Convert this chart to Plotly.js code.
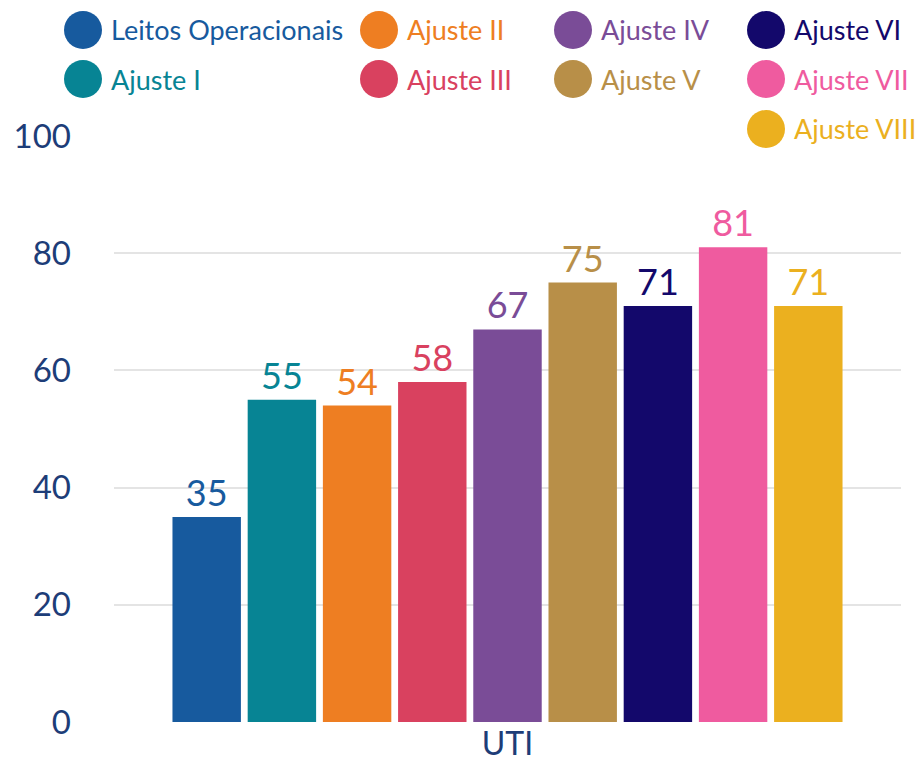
<!DOCTYPE html>
<html>
<head>
<meta charset="utf-8">
<script src="https://cdn.plot.ly/plotly-3.0.1.min.js"></script>
<style>html,body{margin:0;padding:0;background:#fff;}#chart{width:917px;height:764px;}</style>
</head>
<body>
<div id="chart"></div>
<script>
// ---- data ----
const categories = ["UTI"];
const seriesNames = ["Leitos Operacionais", "Ajuste I", "Ajuste II", "Ajuste III", "Ajuste IV", "Ajuste V", "Ajuste VI", "Ajuste VII", "Ajuste VIII"];
const seriesValues = [35, 55, 54, 58, 67, 75, 71, 81, 71];
const seriesColors = ["#175a9e", "#078494", "#ee7e22", "#d9415f", "#7a4c97", "#b88f48", "#13086b", "#ef5b9f", "#ebb01f"];
const yTickVals = [0, 20, 40, 60, 80, 100];

// ---- layout constants (pixels) ----
const W = 917, H = 764;
const M = {l: 114, r: 16, t: 136, b: 42};
const plotW = W - M.l - M.r, plotH = H - M.t - M.b;
// legend grid: [column, row] for each series
const legendSlots = [[0,0],[0,1],[1,0],[1,1],[2,0],[2,1],[3,0],[3,1],[3,2]];
const legendColX = [83, 379, 573, 766];
const legendRowY = [30, 79, 129];
const circleR = 19;
const textFont = "Lato, 'Open Sans', sans-serif";
const axisColor = "#1d3d78";

const traces = seriesNames.map((name, i) => ({
  type: "bar",
  name: name,
  x: categories,
  y: [seriesValues[i]],
  marker: {color: seriesColors[i]},
  text: [String(seriesValues[i])],
  textposition: "outside",
  textfont: {color: seriesColors[i], size: 36, family: textFont},
  cliponaxis: false,
  showlegend: false,
  hoverinfo: "name+y"
}));

const px2x = px => (px - M.l) / plotW;
const py2y = py => (H - M.b - py) / plotH;

const shapes = [], annotations = [];
seriesNames.forEach((name, i) => {
  const [c, r] = legendSlots[i];
  const cx = legendColX[c], cy = legendRowY[r];
  shapes.push({
    type: "circle", xref: "paper", yref: "paper",
    xsizemode: "pixel", ysizemode: "pixel",
    xanchor: px2x(cx), yanchor: py2y(cy),
    x0: -circleR, x1: circleR, y0: -circleR, y1: circleR,
    fillcolor: seriesColors[i], line: {width: 0}
  });
  annotations.push({
    xref: "paper", yref: "paper",
    x: px2x(cx + circleR + 7), y: py2y(cy),
    xanchor: "left", yanchor: "middle",
    text: name, showarrow: false,
    font: {family: textFont, size: 27, color: seriesColors[i]}
  });
});

const layout = {
  width: W, height: H,
  margin: M,
  paper_bgcolor: "#ffffff",
  plot_bgcolor: "#ffffff",
  barmode: "group",
  bargap: 0.14,
  bargroupgap: 0.09,
  showlegend: false,
  font: {family: textFont, color: axisColor},
  xaxis: {
    showgrid: false, showline: false, zeroline: false,
    tickfont: {size: 32, color: axisColor, family: textFont},
    ticks: ""
  },
  yaxis: {
    range: [0, 100], tickvals: yTickVals,
    showgrid: true, gridcolor: "#e4e4e4", gridwidth: 2,
    zeroline: false, showline: false, ticks: "",
    tickfont: {size: 33, color: axisColor, family: textFont},
    ticklabelstandoff: 42
  },
  shapes: shapes,
  annotations: annotations
};

Plotly.newPlot("chart", traces, layout, {displayModeBar: false, staticPlot: true});
</script>
</body>
</html>
